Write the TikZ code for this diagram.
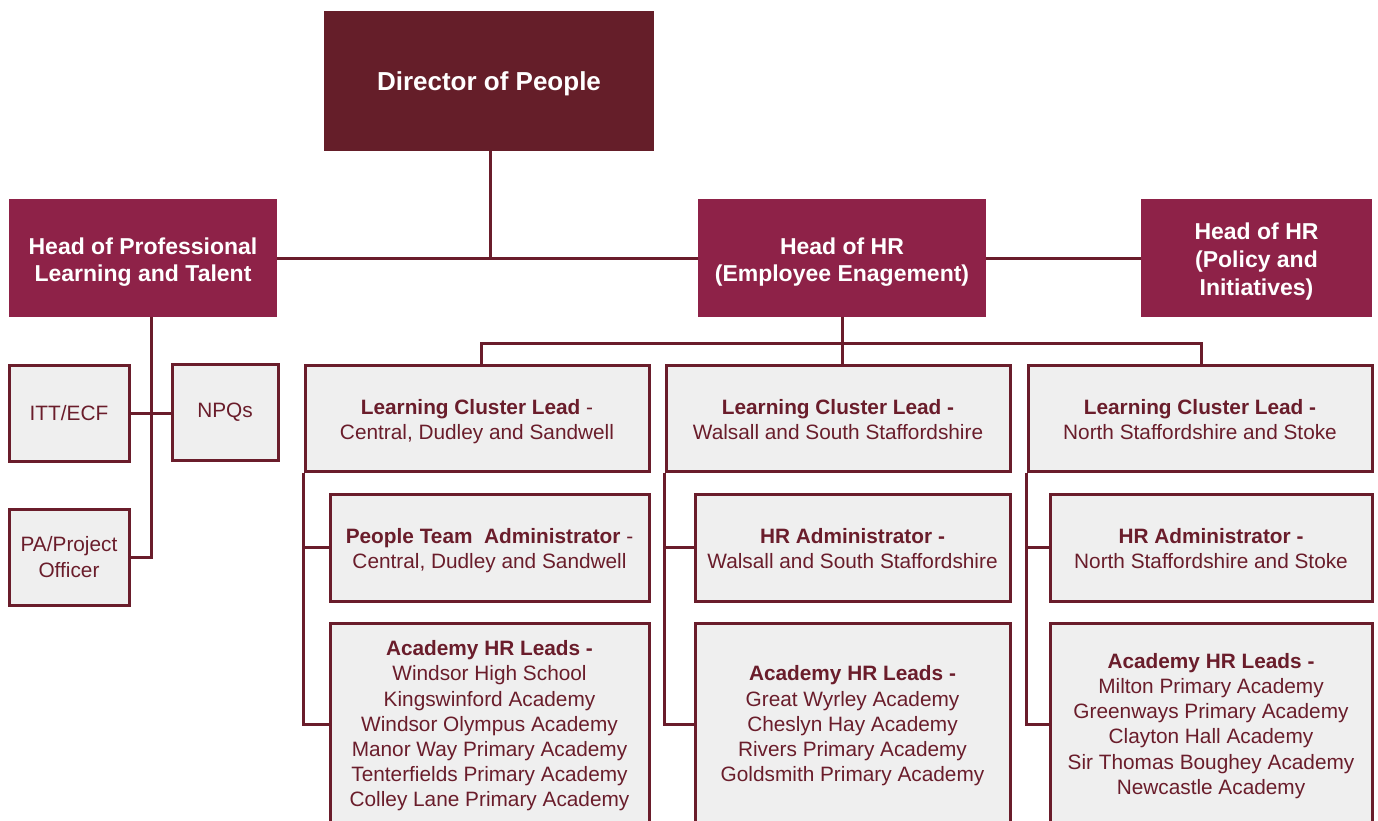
\documentclass[tikz,border=0pt]{standalone}
\usepackage{fontspec}
\setmainfont{Liberation Sans}
\definecolor{dirc}{HTML}{651E29}
\definecolor{headc}{HTML}{8E2248}
\definecolor{linec}{HTML}{6A1D2B}
\definecolor{greyc}{HTML}{EFEFEF}
\begin{document}
\begin{tikzpicture}[x=1pt,y=-1pt,
  dirbox/.style={fill=dirc, inner sep=0pt},
  headbox/.style={fill=headc, inner sep=0pt},
  greybox/.style={fill=greyc, draw=linec, line width=3pt, inner sep=0pt},
  dirtxt/.style={text=white, inner sep=0pt, align=center, font=\fontsize{26}{30}\selectfont\bfseries},
  headtxt/.style={text=white, inner sep=0pt, align=center, font=\fontsize{23}{27.7}\selectfont\bfseries},
  greytxt/.style={text=linec, inner sep=0pt, align=center, font=\fontsize{20.8}{25.2}\selectfont},
  conn/.style={draw=linec, line width=3pt}
]
\useasboundingbox (0,0) rectangle (1378,821);
\clip (0,0) rectangle (1378,821);

% top level
\node[dirbox, minimum width=330, minimum height=140] (dir) at (489,81) {};
\node[dirtxt] (dirt) at ([yshift=-2.5pt]dir.center) {Director of People};
\node[headbox, minimum width=268, minimum height=118] (plt) at (143,258) {};
\node[headtxt] (pltt) at ([yshift=-4pt]plt.center) {Head of Professional\\Learning and Talent};
\node[headbox, minimum width=288, minimum height=118] (hree) at (842,258) {};
\node[headtxt] (hreet) at ([yshift=-4pt]hree.center) {Head of HR\\(Employee Enagement)};
\node[headbox, minimum width=231, minimum height=118] (hrpi) at (1256.5,258) {};
\node[headtxt, font=\fontsize{23}{28}\selectfont\bfseries] (hrpit) at ([yshift=-3.5pt]hrpi.center) {Head of HR\\(Policy and\\Initiatives)};

% professional learning team
\node[greybox, minimum width=120, minimum height=96] (itt) at (69,413) {};
\node[greytxt] (ittt) at (itt.center) {ITT/ECF};
\node[greybox, minimum width=106, minimum height=96] (npq) at (225,412) {};
\node[greytxt] (npqt) at ([yshift=-0.5pt]npq.center) {NPQs};
\node[greybox, minimum width=120, minimum height=96] (pa) at (69,557) {};
\node[greytxt] (pat) at (pa.center) {PA/Project\\Officer};

% column 1
\node[greybox, minimum width=344, minimum height=106] (lcl1) at (477,418) {};
\node[greytxt] (lcl1t) at ([yshift=-4pt]lcl1.center) {\textbf{Learning Cluster Lead} -\\Central, Dudley and Sandwell};
\node[greybox, minimum width=319, minimum height=107] (pt1) at (489.5,547.5) {};
\node[greytxt] (pt1t) at ([yshift=-3pt]pt1.center) {\textbf{People Team\ \ Administrator} -\\Central, Dudley and Sandwell};
\node[greybox, minimum width=319, minimum height=203] (ac1) at (489.5,724.5) {};
\node[greytxt] (ac1t) at ([yshift=-1.5pt]ac1.center) {\textbf{Academy HR Leads -}\\Windsor High School\\Kingswinford Academy\\Windsor Olympus Academy\\Manor Way Primary Academy\\Tenterfields Primary Academy\\Colley Lane Primary Academy};

% column 2
\node[greybox, minimum width=344, minimum height=106] (lcl2) at (838,418) {};
\node[greytxt] (lcl2t) at ([yshift=-1.5pt]lcl2.center) {\textbf{Learning Cluster Lead -}\\Walsall and South Staffordshire};
\node[greybox, minimum width=315, minimum height=107] (hra2) at (852.5,547.5) {};
\node[greytxt] (hra2t) at ([yshift=-1pt]hra2.center) {\textbf{HR Administrator -}\\Walsall and South Staffordshire};
\node[greybox, minimum width=315, minimum height=203] (ac2) at (852.5,724.5) {};
\node[greytxt] (ac2t) at ([yshift=-1.5pt]ac2.center) {\textbf{Academy HR Leads -}\\Great Wyrley Academy\\Cheslyn Hay Academy\\Rivers Primary Academy\\Goldsmith Primary Academy};

% column 3
\node[greybox, minimum width=344, minimum height=106] (lcl3) at (1200,418) {};
\node[greytxt] (lcl3t) at ([yshift=-1.5pt]lcl3.center) {\textbf{Learning Cluster Lead -}\\North Staffordshire and Stoke};
\node[greybox, minimum width=322, minimum height=107] (hra3) at (1211,547.5) {};
\node[greytxt] (hra3t) at ([yshift=-1pt]hra3.center) {\textbf{HR Administrator -}\\North Staffordshire and Stoke};
\node[greybox, minimum width=322, minimum height=203] (ac3) at (1211,724.5) {};
\node[greytxt] (ac3t) at ([yshift=-1.5pt]ac3.center) {\textbf{Academy HR Leads -}\\Milton Primary Academy\\Greenways Primary Academy\\Clayton Hall Academy\\Sir Thomas Boughey Academy\\Newcastle Academy};

% connectors
\coordinate (bus) at (842,343);
\path[conn] ([xshift=1pt]dir.south) -- ([xshift=1pt]dir.south |- plt.east);
\path[conn] (plt.east) -- (hree.west);
\path[conn] (hree.east) -- (hrpi.west);
\path[conn] ([xshift=8pt]plt.south) |- (pa.east);
\path[conn] (itt.east) -- (itt.east -| npq.west);
\path[conn] (hree.south) -- (hree.south |- lcl2.north);
\path[conn] ([xshift=4pt]lcl1.north) |- (bus) -| ([xshift=1pt]lcl3.north);
\path[conn] (lcl1.south west) |- (ac1.west);
\path[conn] (lcl1.south west |- pt1.west) -- (pt1.west);
\path[conn] (lcl2.south west) |- (ac2.west);
\path[conn] (lcl2.south west |- hra2.west) -- (hra2.west);
\path[conn] (lcl3.south west) |- (ac3.west);
\path[conn] (lcl3.south west |- hra3.west) -- (hra3.west);
\end{tikzpicture}
\end{document}
